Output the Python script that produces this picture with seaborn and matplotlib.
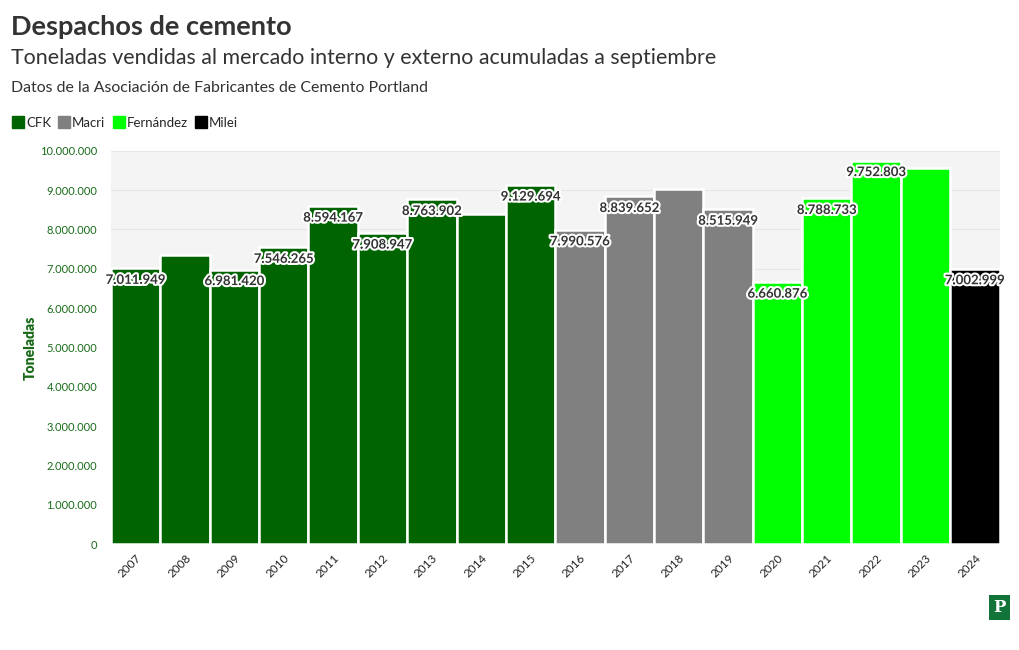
import numpy as np
import pandas as pd
import matplotlib
matplotlib.use("Agg")
import matplotlib.pyplot as plt
import matplotlib.patheffects as pe
from matplotlib.lines import Line2D
from matplotlib.ticker import FuncFormatter
import seaborn as sns

# Data
years = ["2007", "2008", "2009", "2010", "2011", "2012", "2013", "2014", "2015",
         "2016", "2017", "2018", "2019", "2020", "2021", "2022", "2023", "2024"]
tons = [7011949, 7360000, 6981420, 7546265, 8594167, 7908947, 8763902, 8400000, 9129694,
        7990576, 8839652, 9030000, 8515949, 6660876, 8788733, 9752803, 9570000, 7002999]
gov = ["CFK"] * 9 + ["Macri"] * 4 + ["Fernández"] * 4 + ["Milei"]
show_label = [1, 0, 1, 1, 1, 1, 1, 0, 1, 1, 1, 0, 1, 1, 1, 1, 0, 1]

govs = ["CFK", "Macri", "Fernández", "Milei"]
colors = ["#006400", "#808080", "#00ff00", "#000000"]
palette = dict(zip(govs, colors))

df = pd.DataFrame({"year": years, "tons": tons, "gov": gov})

sns.set_style("white")
plt.rcParams["font.family"] = ["Lato", "DejaVu Sans"]

fig = plt.figure(figsize=(10.2, 6.5), dpi=100)
ax = fig.add_axes([0.1088, 0.163, 0.8712, 0.605])

sns.barplot(data=df, x="year", y="tons", hue="gov", hue_order=govs, palette=palette,
            dodge=False, width=1.0, edgecolor="white", linewidth=1.8, saturation=1,
            legend=False, ax=ax)

ax.set_facecolor("#f4f4f4")
ax.set_xlim(-0.5, len(years) - 0.5)
ax.set_ylim(0, 10000000)
ax.set_yticks(np.arange(0, 10000001, 1000000))
ax.yaxis.set_major_formatter(FuncFormatter(lambda v, p: f"{int(v):,}".replace(",", ".")))
ax.grid(axis="y", color="#e6e6e6", linewidth=0.8)
ax.set_axisbelow(True)
for s in ax.spines.values():
    s.set_visible(False)
ax.tick_params(axis="y", labelsize=8, colors="#1a6b1a", length=0, pad=10)
ax.tick_params(axis="x", labelsize=8.5, colors="#222222", length=4, pad=2, color="#dddddd")
plt.setp(ax.get_xticklabels(), rotation=45, ha="right", rotation_mode="anchor")
ax.set_xlabel("")
ax.set_ylabel("Toneladas", fontsize=10, fontweight="heavy", color="#1a6b1a")
ax.yaxis.set_label_coords(-0.084, 0.5)

# value labels
for i, (v, sl) in enumerate(zip(tons, show_label)):
    if sl:
        ax.annotate(f"{v:,}".replace(",", "."), (i, v), xytext=(0, -4),
                    textcoords="offset points", ha="center", va="top",
                    fontsize=9.5, fontweight="bold", color="#333333",
                    path_effects=[pe.withStroke(linewidth=3, foreground="white")])

# titles
fig.text(0.011, 0.958, "Despachos de cemento", fontsize=19.5, fontweight="bold",
         color="#333333", va="center")
fig.text(0.011, 0.911, "Toneladas vendidas al mercado interno y externo acumuladas a septiembre",
         fontsize=15.4, color="#333333", va="center")
fig.text(0.011, 0.864, "Datos de la Asociación de Fabricantes de Cemento Portland",
         fontsize=11.4, color="#333333", va="center")

# legend
handles = [Line2D([], [], marker="s", linestyle="", markersize=9, color=c) for c in colors]
fig.legend(handles, govs, loc="center left", bbox_to_anchor=(0.006, 0.811), ncol=4,
           frameon=False, fontsize=9.5, handletextpad=0.1, columnspacing=0.5,
           handlelength=1.0, borderaxespad=0)

# logo
fig.text(0.980, 0.065, "P", fontsize=12, fontweight="bold", color="white",
         family="DejaVu Serif", ha="center", va="center",
         bbox=dict(boxstyle="square,pad=0.25", fc="#13743a", ec="none"))

fig.savefig("out.png", dpi=100, facecolor="white")
